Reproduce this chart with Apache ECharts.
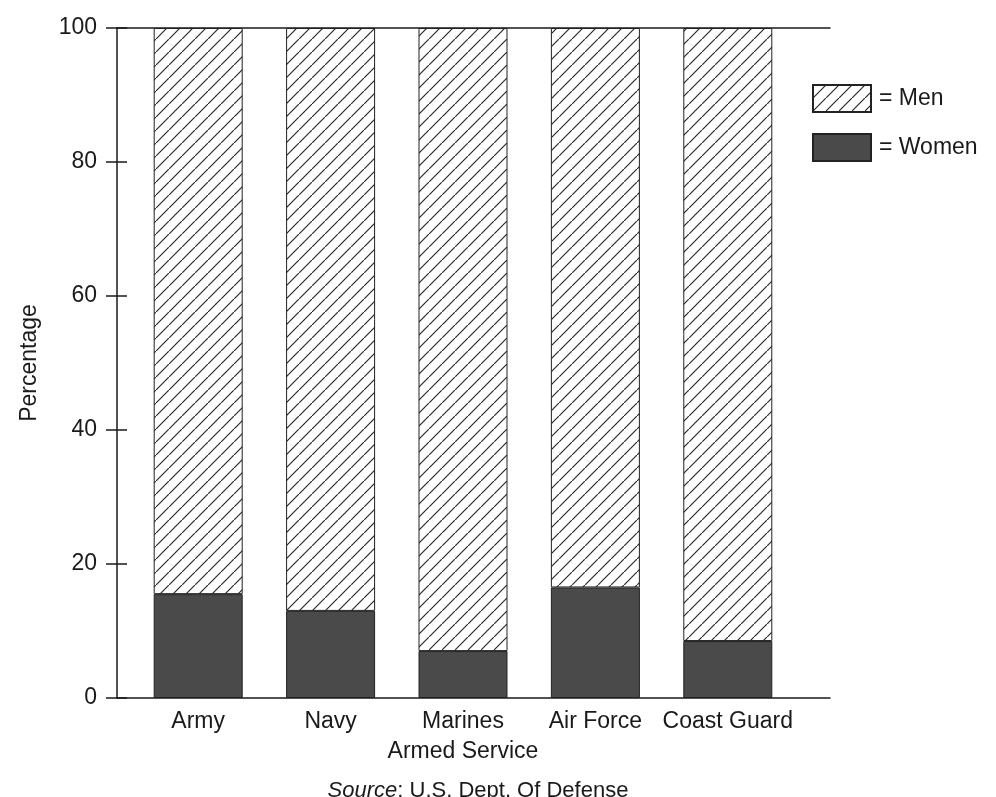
<!DOCTYPE html>
<html>
<head>
<meta charset="utf-8">
<script src="https://cdn.jsdelivr.net/npm/echarts@6/dist/echarts.min.js"></script>
<style>
  html, body { margin: 0; padding: 0; background: #fff; }
  #chart { width: 996px; height: 797px; }
</style>
</head>
<body>
<div id="chart"></div>
<script>
// data
var categories = ["Army", "Navy", "Marines", "Air Force", "Coast Guard"];
var women = [15.5, 13, 7, 16.5, 8.5];
var men = [84.5, 87, 93, 83.5, 91.5];
var yTicks = [0, 20, 40, 60, 80, 100];

var font = "Liberation Sans, Arial, Helvetica, sans-serif";
var ink = "#1a1a1a";
var fs = 23;

// hatch for the Men bars (/ lines)
function makeHatch() {
  var s = 13;
  var c = document.createElement("canvas");
  c.width = s;
  c.height = s;
  var ctx = c.getContext("2d");
  ctx.fillStyle = "#fff";
  ctx.fillRect(0, 0, s, s);
  ctx.strokeStyle = "#2a2a2a";
  ctx.lineWidth = 1.2;
  ctx.beginPath();
  ctx.moveTo(-1, s + 1);
  ctx.lineTo(s + 1, -1);
  ctx.moveTo(-2, 1);
  ctx.lineTo(1, -2);
  ctx.moveTo(s - 1, s + 2);
  ctx.lineTo(s + 2, s - 1);
  ctx.stroke();
  return c;
}

var chart = echarts.init(document.getElementById("chart"));

var yMin = yTicks[0], yMax = yTicks[yTicks.length - 1], yStep = yTicks[1] - yTicks[0];

var option = {
  animation: false,
  textStyle: { fontFamily: font },
  grid: [
    // bars
    { left: 132, right: 202, top: 28, bottom: 99 },
    // frame: axis lines, y ticks
    { left: 117, right: 166, top: 28, bottom: 99 }
  ],
  title: {
    text: "{i|Source}: U.S. Dept. Of Defense",
    left: 473,
    top: 775,
    textAlign: "center",
    textStyle: {
      fontFamily: font,
      fontSize: 22,
      fontWeight: "normal",
      color: ink,
      rich: {
        i: { fontFamily: font, fontSize: 22, fontStyle: "italic", color: ink }
      }
    }
  },
  legend: {
    orient: "vertical",
    left: 807,
    top: 79,
    icon: "rect",
    itemWidth: 58,
    itemHeight: 27,
    itemGap: 20,
    data: ["Men", "Women"],
    formatter: "= {name}",
    textStyle: { fontFamily: font, fontSize: fs, color: ink, padding: [0, 0, 0, 3] }
  },
  xAxis: [
    {
      type: "category",
      gridIndex: 0,
      data: categories,
      axisLine: { show: false },
      axisTick: { show: false },
      axisLabel: { fontSize: fs, color: ink, margin: 12, interval: 0 },
      name: "Armed Service",
      nameLocation: "middle",
      nameGap: 42,
      nameTextStyle: { fontSize: fs, color: ink }
    },
    {
      type: "value",
      gridIndex: 1,
      position: "bottom",
      axisLine: { show: true, onZero: false, lineStyle: { color: ink, width: 1.5 } },
      axisTick: { show: false },
      axisLabel: { show: false },
      splitLine: { show: false }
    },
    {
      type: "value",
      gridIndex: 1,
      position: "top",
      axisLine: { show: true, onZero: false, lineStyle: { color: ink, width: 1.5 } },
      axisTick: { show: false },
      axisLabel: { show: false },
      splitLine: { show: false }
    }
  ],
  yAxis: [
    {
      type: "value",
      gridIndex: 0,
      min: yMin,
      max: yMax,
      interval: yStep,
      show: false
    },
    {
      type: "value",
      gridIndex: 1,
      min: yMin,
      max: yMax,
      interval: yStep,
      axisLine: { show: true, lineStyle: { color: ink, width: 1.5 } },
      axisTick: { show: true, length: 11, lineStyle: { color: ink, width: 1.5 } },
      splitLine: { show: false },
      axisLabel: { fontSize: fs, color: ink, margin: 20 },
      name: "Percentage",
      nameLocation: "middle",
      nameGap: 76,
      nameTextStyle: { fontSize: fs, color: ink }
    },
    {
      // inner half of the crossing ticks
      type: "value",
      gridIndex: 1,
      position: "left",
      min: yMin,
      max: yMax,
      interval: yStep,
      axisLine: { show: false },
      axisTick: { show: true, inside: true, length: 10, lineStyle: { color: ink, width: 1.5 } },
      axisLabel: { show: false },
      splitLine: { show: false }
    }
  ],
  series: [
    {
      name: "Women",
      type: "bar",
      stack: "total",
      xAxisIndex: 0,
      yAxisIndex: 0,
      barWidth: 89,
      data: women,
      itemStyle: { color: "#4a4a4a", borderColor: "#222", borderWidth: 1 }
    },
    {
      name: "Men",
      type: "bar",
      stack: "total",
      xAxisIndex: 0,
      yAxisIndex: 0,
      barWidth: 89,
      data: men,
      itemStyle: {
        color: { image: makeHatch(), repeat: "repeat" },
        borderColor: "#222",
        borderWidth: 1
      }
    }
  ]
};

chart.setOption(option);
</script>
</body>
</html>
